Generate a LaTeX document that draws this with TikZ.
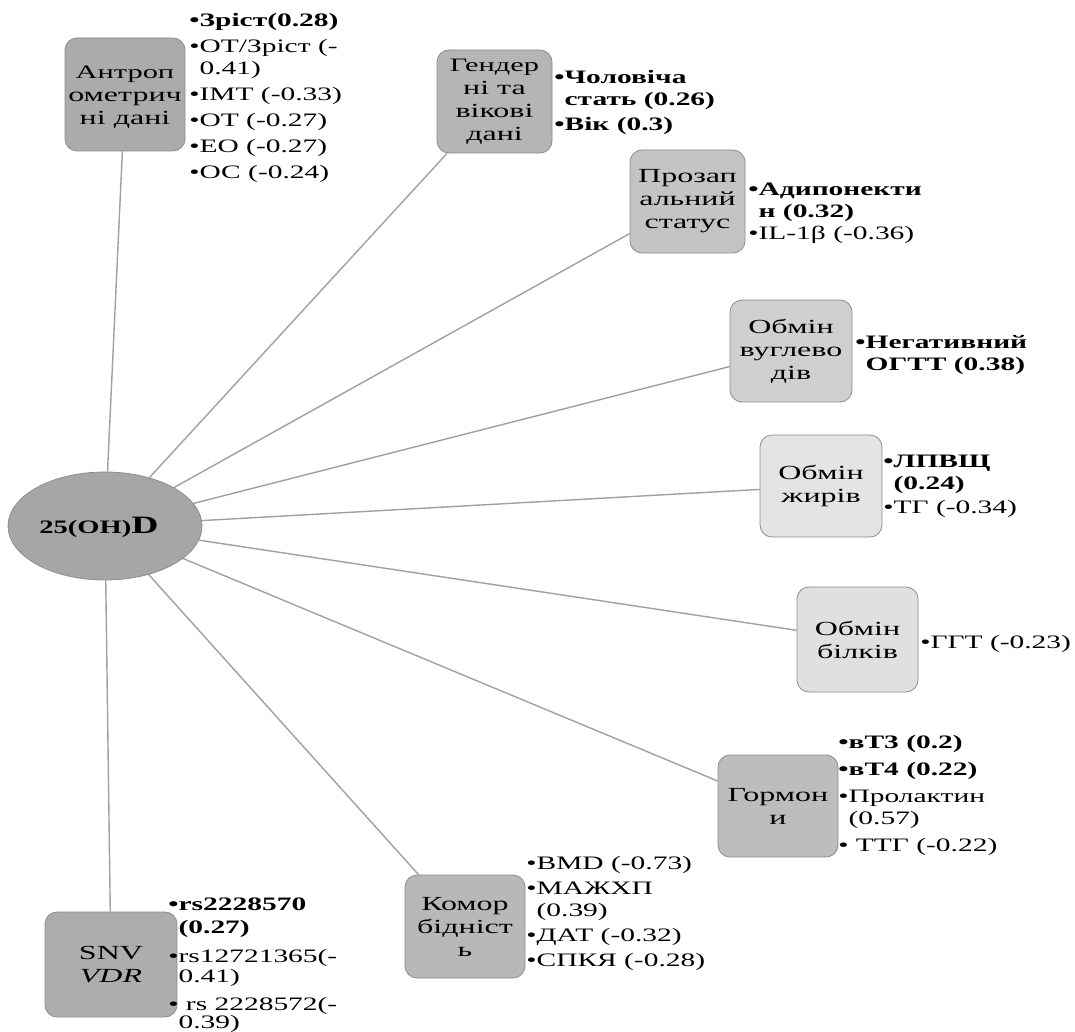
\documentclass[tikz,border=0pt]{standalone}
\usepackage{fontspec}
\setmainfont{Liberation Serif}
\usetikzlibrary{backgrounds,shapes.geometric}
\definecolor{cE}{HTML}{A6A6A6}
\definecolor{cA}{HTML}{ABABAB}
\definecolor{cB}{HTML}{B5B5B5}
\definecolor{cC}{HTML}{C4C4C4}
\definecolor{cD}{HTML}{D0D0D0}
\definecolor{cF}{HTML}{E4E4E4}
\definecolor{cG}{HTML}{E0E0E0}
\definecolor{cH}{HTML}{BDBDBD}
\definecolor{cI}{HTML}{B8B8B8}
\definecolor{cJ}{HTML}{ADADAD}
\definecolor{edge}{HTML}{8C8C8C}
\definecolor{conn}{HTML}{A0A0A0}
\begin{document}
\begin{tikzpicture}[x=1pt,y=-1pt,
  box/.style={draw=edge, line width=0.8pt, rounded corners=12pt, inner sep=0pt},
  btxt/.style={inner sep=0pt, align=center, xscale=1.6, transform shape,
    font=\fontsize{20}{23}\selectfont},
  lst/.style={anchor=north west, inner sep=0pt, align=left, xscale=1.55, transform shape,
    font=\fontsize{19}{22}\selectfont},
  link/.style={draw=conn, line width=1.4pt}]
\path[use as bounding box] (0,0) rectangle (1075,1032);

\node[draw=edge, line width=0.8pt, fill=cE, ellipse, minimum width=194pt, minimum height=108pt, inner sep=0pt] (e) at (105,526) {};
\node[btxt, font=\bfseries\fontsize{19}{22}\selectfont, xscale=0.94] (et) at (99,527) {25(OH){\fontsize{25}{26}\selectfont D}};

\node[box, fill=cA, minimum width=120pt, minimum height=113pt] (b1) at (125,94.5) {};
\node[btxt] (t1) at (125,97) {\fontsize{19}{21.5}\selectfont Антроп\\ометрич\\ні дані};
\node[box, fill=cB, minimum width=115pt, minimum height=103pt] (b2) at (494.5,101.5) {};
\node[btxt] (t2) at (494.5,101.5) {\fontsize{19}{25}\selectfont Гендер\\ні та\\вікові\\дані};
\node[box, fill=cC, minimum width=115pt, minimum height=103pt] (b3) at (687.5,201.5) {};
\node[btxt] (t3) at (b3) {Прозап\\альний\\статус};
\node[box, fill=cD, minimum width=122pt, minimum height=102pt] (b4) at (791,351) {};
\node[btxt] (t4) at (b4) {Обмін\\вуглево\\дів};
\node[box, fill=cF, minimum width=122pt, minimum height=102pt] (b5) at (821,486) {};
\node[btxt] (t5) at (b5) {Обмін\\жирів};
\node[box, fill=cG, minimum width=121pt, minimum height=105pt] (b6) at (857.5,639.5) {};
\node[btxt] (t6) at (b6) {Обмін\\білків};
\node[box, fill=cH, minimum width=120pt, minimum height=102pt] (b7) at (778,806) {};
\node[btxt] (t7) at (b7) {Гормон\\и};
\node[box, fill=cI, minimum width=120pt, minimum height=103pt] (b8) at (465,926.5) {};
\node[btxt] (t8) at (b8) {Комор\\бідніст\\ь};
\node[box, fill=cJ, minimum width=132pt, minimum height=105pt] (b9) at (111,964.5) {};
\node[btxt] (t9) at (b9) {SNV\\\textit{VDR}};

\node[lst] (l1) at (189,13) {\textbf{•Зріст(0.28)}\\[4pt]
  •ОТ/Зріст (-\\\hphantom{•}0.41)\\[4pt]
  •ІМТ (-0.33)\\[4pt]•ОТ (-0.27)\\[4pt]•ЕО (-0.27)\\[4pt]•ОС (-0.24)};
\node[lst] (l2) at (554,70) {\textbf{•Чоловіча}\\\hphantom{•}\textbf{стать (0.26)}\\[3pt]\textbf{•Вік (0.3)}};
\node[lst] (l3) at (748,183) {\textbf{•Адипонекти}\\\hphantom{•}\textbf{н (0.32)}\\[0pt]•IL-1β (-0.36)};
\node[lst] (l4) at (855,335) {\textbf{•Негативний}\\\hphantom{•}\textbf{ОГТТ (0.38)}};
\node[lst] (l5) at (883,455) {\textbf{•ЛПВЩ}\\\hphantom{•}\textbf{(0.24)}\\[2pt]•ТГ (-0.34)};
\node[lst] (l6) at (920,635) {•ГГТ (-0.23)};
\node[lst] (l7) at (838,735) {\textbf{•вТ3 (0.2)}\\[5pt]\textbf{•вТ4 (0.22)}\\[5pt]•Пролактин\\\hphantom{•}(0.57)\\[5pt]• ТТГ (-0.22)};
\node[lst] (l8) at (526,856) {•BMD (-0.73)\\[3pt]•МАЖХП\\\hphantom{•}(0.39)\\[3pt]•ДАТ (-0.32)\\[3pt]•СПКЯ (-0.28)};
\node[lst] (l9) at (168,898) {\textbf{•rs2228570}\\[1pt]\hphantom{•}\textbf{(0.27)}\\[7pt]•rs12721365(-\\[-2pt]\hphantom{•}0.41)\\[6pt]• rs 2228572(-\\[-4pt]\hphantom{•}0.39)};

\begin{scope}[on background layer]
\foreach \b in {b1,b2,b3,b4,b5,b6,b7,b8,b9}
  \path[link] (e) -- (\b);
\end{scope}
\end{tikzpicture}
\end{document}
